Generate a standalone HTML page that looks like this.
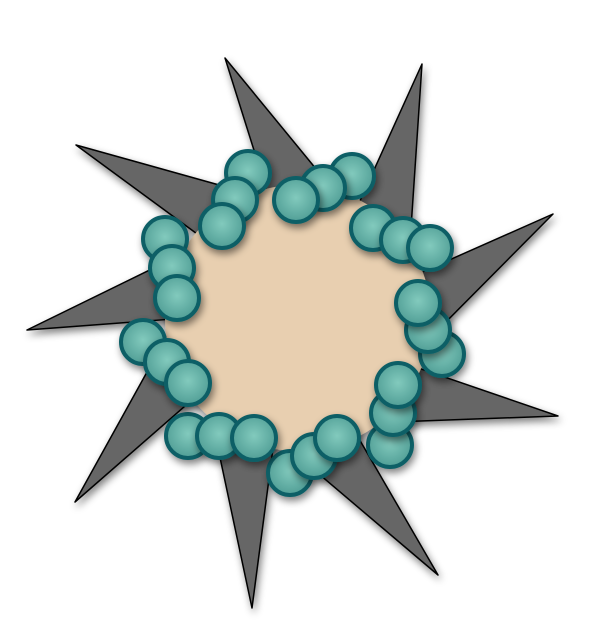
<!DOCTYPE html>
<html><head><meta charset="utf-8"><style>html,body{margin:0;padding:0;background:#fff}svg{display:block}</style></head>
<body>
<svg id="chart" width="600" height="620" viewBox="0 0 600 620" xmlns="http://www.w3.org/2000/svg">
<defs>
<radialGradient id="tg" cx="0.5" cy="0.45" r="0.6"><stop offset="0" stop-color="#82cabd"/><stop offset="1" stop-color="#4c9a92"/></radialGradient>
<filter id="sh" x="-50%" y="-50%" width="200%" height="200%"><feGaussianBlur in="SourceAlpha" stdDeviation="4"/><feOffset dx="2" dy="4"/><feComponentTransfer><feFuncA type="linear" slope="0.5"/></feComponentTransfer><feMerge><feMergeNode/><feMergeNode in="SourceGraphic"/></feMerge></filter>
</defs>
<g id="spikes"></g><g id="core"></g><g id="dots"></g>
</svg>
<script>
const center = [298, 318];
const coreRadius = 133;
const spikeTipsX = [225, 422, 553, 558, 438, 252, 75, 27, 76];
const spikeTipsY = [58, 64, 214, 416, 575, 608, 502, 330, 145];
const dotsX = [248,235,222, 352,323,296, 373,403,430, 442,428,418, 390,393,398, 290,314,337, 188,219,254, 143,167,188, 165,172,177];
const dotsY = [173,200,226, 176,188,200, 228,240,248, 354,330,303, 445,413,385, 473,456,438, 436,436,438, 342,362,383, 239,268,298];
const NS='http://www.w3.org/2000/svg';
const sp=document.getElementById('spikes'), co=document.getElementById('core'), dg=document.getElementById('dots');
for(let i=0;i<spikeTipsX.length;i++){
  const tx=spikeTipsX[i], ty=spikeTipsY[i];
  const a=Math.atan2(ty-center[1],tx-center[0]);
  const r=coreRadius-6;
  const a1=a+2*Math.PI/180, a2=a+35*Math.PI/180;
  const p=document.createElementNS(NS,'polygon');
  p.setAttribute('points',`${tx},${ty} ${center[0]+r*Math.cos(a1)},${center[1]+r*Math.sin(a1)} ${center[0]+r*Math.cos(a2)},${center[1]+r*Math.sin(a2)}`);
  p.setAttribute('fill','#666');p.setAttribute('stroke','#000');p.setAttribute('stroke-width','1.5');p.setAttribute('stroke-linejoin','round');
  p.setAttribute('filter','url(#sh)');
  
  
  sp.appendChild(p);
}
const c=document.createElementNS(NS,'circle');
c.setAttribute('cx',center[0]);c.setAttribute('cy',center[1]);c.setAttribute('r',coreRadius);
c.setAttribute('fill','#e8cfb0');c.setAttribute('filter','url(#sh)');


co.appendChild(c);
for(let i=0;i<dotsX.length;i++){
  const d=document.createElementNS(NS,'circle');
  d.setAttribute('cx',dotsX[i]);d.setAttribute('cy',dotsY[i]);d.setAttribute('r',22);
  d.setAttribute('fill','url(#tg)');d.setAttribute('stroke','#0d5f66');d.setAttribute('stroke-width','4');
  d.setAttribute('filter','url(#sh)');
  
  
  dg.appendChild(d);
}
</script>
</body></html>
